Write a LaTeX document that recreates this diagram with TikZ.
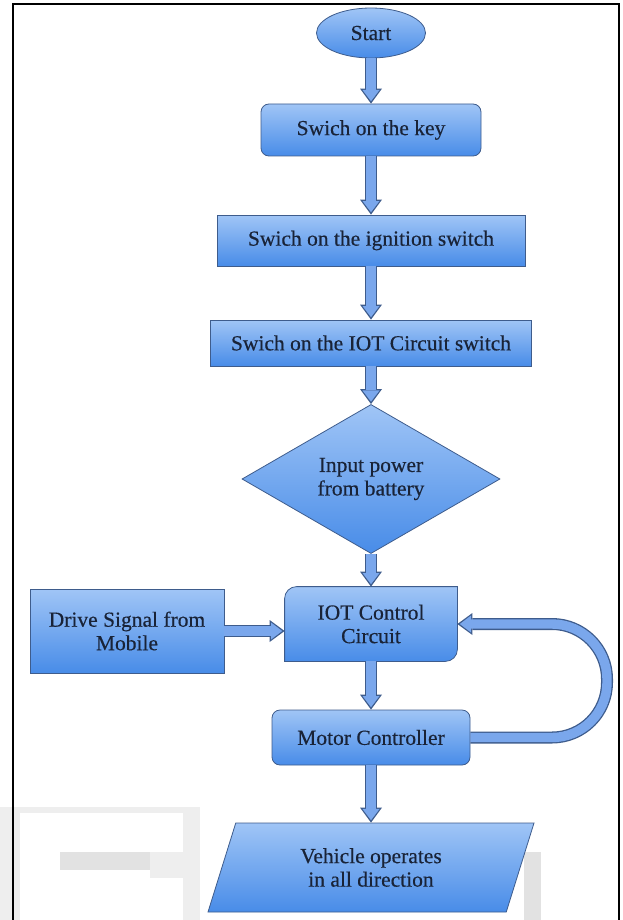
\documentclass[tikz,border=0pt]{standalone}
\usepackage{fontspec}
\setmainfont{Liberation Serif}[FakeBold=0.35]
\usetikzlibrary{arrows.meta,calc,positioning}
\usetikzlibrary{shapes.geometric}
\usetikzlibrary{backgrounds}
\definecolor{boxtop}{RGB}{160,197,246}
\definecolor{boxbot}{RGB}{72,140,232}
\definecolor{edgeblue}{RGB}{62,92,140}
\definecolor{arrowin}{RGB}{122,167,236}
\definecolor{txt}{RGB}{25,35,55}
\definecolor{wmark}{RGB}{238,238,238}
\definecolor{wmarkd}{RGB}{226,226,226}

\begin{document}
\begin{tikzpicture}[x=1pt,y=1pt,
blk/.style={draw=edgeblue,line width=.8pt,top color=boxtop,bottom color=boxbot,
  text=txt,align=center,inner sep=0pt,font=\fontsize{21.5}{23.5}\selectfont},
fat/.style={draw=edgeblue,line width=12pt,-{Triangle[length=15pt,width=22pt,line width=0pt]},
  postaction={draw=arrowin,line width=9.4pt,shorten >=2.4pt,
  -{Triangle[length=11.2pt,width=17pt,line width=0pt]}}}]
\useasboundingbox (0,0) rectangle (622,-920);
\node[blk,ellipse,minimum width=109,minimum height=50] (Start) at (371,-33) {Start};
\node[blk,rounded corners=8pt,minimum width=220,minimum height=52] (Key) at (371,-130) {Swich on the key};
\node[blk,minimum width=308,minimum height=51] (Ign) at (371,-240.5) {Swich on the ignition switch};
\node[blk,minimum width=321,minimum height=46] (Iot) at (371,-343) {Swich on the IOT Circuit switch};
\node[blk,diamond,minimum width=258,minimum height=102] (Pow) at (371,-479) {Input power\\from battery};
\node[blk,draw=none,shade=false,fill=none,minimum width=172,minimum height=74] (Ctl) at (371,-624) {IOT Control\\Circuit};
\node[blk,minimum width=194,minimum height=84] (Drv) at (127,-631) {Drive Signal from\\Mobile};
\node[blk,rounded corners=8pt,minimum width=198,minimum height=55] (Mot) at (371,-737.5) {Motor Controller};
\node[blk,trapezium,trapezium stretches body,trapezium left angle=54.3,trapezium right angle=125.7,
  minimum width=326,minimum height=89] (Veh) at (371,-867.5) {Vehicle operates\\in all direction};
\coordinate (Loop) at (607,-624);
\begin{scope}[on background layer]
\fill[wmark] (0,-807) rectangle (20,-920);
\fill[wmark] (20,-807) rectangle (200,-813);
\fill[wmark] (183,-813) rectangle (200,-920);
\fill[wmarkd] (60,-852) rectangle (150,-870);
\fill[wmark] (150,-852) rectangle (183,-878);
\fill[wmarkd] (524,-852) rectangle (541,-920);
\path[draw=edgeblue,line width=.8pt,top color=boxtop,bottom color=boxbot]
  (Ctl.south west) -- ([yshift=-12pt]Ctl.north west) arc[start angle=180,end angle=90,radius=12pt]
  -- (Ctl.north east) -- ([yshift=12pt]Ctl.south east) arc[start angle=0,end angle=-90,radius=12pt] -- cycle;
\end{scope}
\draw[line width=2.5pt] (13,-920) |- (619,-4) -- (619,-920);
\draw[fat] (Start) -- (Key);
\draw[fat] (Key) -- (Ign);
\draw[fat] (Ign) -- (Iot);
\draw[fat] (Iot) -- (Pow);
\draw[fat] (Pow) -- (Ctl);
\draw[fat] (Ctl) -- (Mot);
\draw[fat] (Mot) -- (Veh);
\draw[fat] (Drv.east) -- (Drv.east -| Ctl.west);
\draw[fat,rounded corners=55pt] (Mot.east) -| (Loop) -- (Ctl.east);
\end{tikzpicture}
\end{document}
